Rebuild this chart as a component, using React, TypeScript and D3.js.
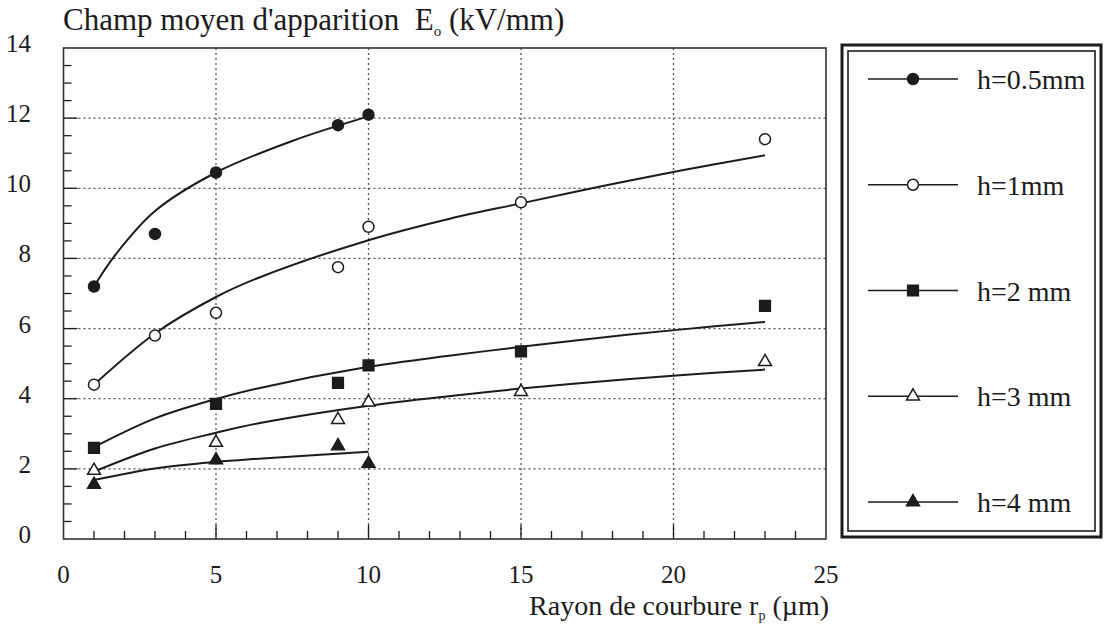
import React from 'react';
import * as d3 from 'd3';

// measured points, rayon de courbure r (µm) -> champ E0 (kV/mm)
const h05R = [1, 3, 5, 9, 10];
const h05E = [7.2, 8.7, 10.45, 11.8, 12.1];
const h1R = [1, 3, 5, 9, 10, 15, 23];
const h1E = [4.4, 5.8, 6.45, 7.75, 8.9, 9.6, 11.4];
const h2R = [1, 5, 9, 10, 15, 23];
const h2E = [2.6, 3.85, 4.45, 4.95, 5.35, 6.65];
const h3R = [1, 5, 9, 10, 15, 23];
const h3E = [1.95, 2.75, 3.4, 3.9, 4.2, 5.05];
const h4R = [1, 5, 9, 10];
const h4E = [1.55, 2.25, 2.65, 2.15];

// fitted curves
const h05FitR = [1, 1.7, 3, 5, 7.5, 10];
const h05FitE = [7.2, 8.1, 9.35, 10.45, 11.35, 12.05];
const h1FitR = [1, 3, 5, 6.4, 10, 12.7, 15, 17.6, 20.2, 23];
const h1FitE = [4.4, 5.86, 6.9, 7.45, 8.52, 9.14, 9.57, 10.05, 10.5, 10.94];
const h2FitR = [1, 3, 5, 6.4, 10, 12.7, 15, 17.6, 20.2, 23];
const h2FitE = [2.62, 3.44, 3.99, 4.3, 4.91, 5.23, 5.48, 5.74, 5.97, 6.19];
const h3FitR = [1, 3, 5, 6.4, 10, 12.7, 15, 17.6, 20.2, 23];
const h3FitE = [1.92, 2.58, 3.03, 3.3, 3.8, 4.08, 4.29, 4.49, 4.67, 4.83];
const h4FitR = [1, 3, 5, 6.4, 10];
const h4FitE = [1.68, 2.01, 2.2, 2.29, 2.49];

const seriesLabels = ['h=0.5mm', 'h=1mm', 'h=2 mm', 'h=3 mm', 'h=4 mm'];
const xTicks = [0, 5, 10, 15, 20, 25];
const yTicks = [0, 2, 4, 6, 8, 10, 12, 14];

const FONT = 'Liberation Serif';
const INK = '#1c1c1c';

type Kind = 'dot' | 'ring' | 'square' | 'tri' | 'trifill';

const series: { r: number[]; e: number[]; fr: number[]; fe: number[]; kind: Kind }[] = [
  { r: h05R, e: h05E, fr: h05FitR, fe: h05FitE, kind: 'dot' },
  { r: h1R, e: h1E, fr: h1FitR, fe: h1FitE, kind: 'ring' },
  { r: h2R, e: h2E, fr: h2FitR, fe: h2FitE, kind: 'square' },
  { r: h3R, e: h3E, fr: h3FitR, fe: h3FitE, kind: 'tri' },
  { r: h4R, e: h4E, fr: h4FitR, fe: h4FitE, kind: 'trifill' },
];

function Marker({ x, y, kind }: { x: number; y: number; kind: Kind }) {
  const type =
    kind === 'dot' || kind === 'ring'
      ? d3.symbolCircle
      : kind === 'square'
      ? d3.symbolSquare
      : d3.symbolTriangle;
  const size = kind === 'square' ? 115 : kind === 'dot' || kind === 'ring' ? 95 : 72;
  const d = d3.symbol().type(type).size(size)() as string;
  const hollow = kind === 'ring' || kind === 'tri';
  return (
    <path
      d={d}
      transform={`translate(${x},${y})`}
      fill={hollow ? '#fff' : INK}
      stroke={INK}
      strokeWidth={1.5}
    />
  );
}

export default function App() {
  const width = 1104;
  const height = 624;
  const left = 63.5;
  const right = 826;
  const top = 48;
  const bottom = 539;

  const x = d3.scaleLinear().domain([0, 25]).range([left, right]);
  const y = d3.scaleLinear().domain([0, 14]).range([bottom, top]);

  const fitLine = d3
    .line<[number, number]>()
    .x(d => x(d[0]))
    .y(d => y(d[1]))
    .curve(d3.curveCatmullRom.alpha(0.5));

  const xMinor = d3.range(1, 25);
  const yMinor = d3.range(0.5, 14, 0.5);

  const legTop = 45;
  const legBottom = 537;
  const legLeft = 842;
  const legRight = 1101;
  const legY = d3.scalePoint<number>().domain([0, 1, 2, 3, 4]).range([79, 502]);

  return (
    <svg
      width={width}
      height={height}
      fontFamily={FONT}
      style={{ position: 'absolute', left: 0, top: 0, background: '#fdfdfd' }}
    >
      {/* grid */}
      {xTicks.slice(1, -1).map(t => (
        <line key={'gx' + t} x1={x(t)} x2={x(t)} y1={top} y2={bottom}
          stroke="#555" strokeWidth={1.3} strokeDasharray="2,3" />
      ))}
      {yTicks.slice(1, -1).map(t => (
        <line key={'gy' + t} x1={left} x2={right} y1={y(t)} y2={y(t)}
          stroke="#555" strokeWidth={1.3} strokeDasharray="2,3" />
      ))}

      {/* minor + major ticks, inward */}
      {xMinor.map(t => (
        <line key={'tx' + t} x1={x(t)} x2={x(t)} y1={bottom} y2={bottom - (t % 5 === 0 ? 14 : 8)}
          stroke={INK} strokeWidth={1.3} />
      ))}
      {yMinor.map(t => (
        <line key={'ty' + t} x1={left} x2={left + (t % 2 === 0 ? 14 : 8)} y1={y(t)} y2={y(t)}
          stroke={INK} strokeWidth={1.3} />
      ))}

      {/* frame */}
      <rect x={left} y={top} width={right - left} height={bottom - top}
        fill="none" stroke="#333" strokeWidth={1.6} />

      {/* tick labels */}
      {yTicks.map(t => (
        <text key={'ly' + t} x={31} y={y(t) + 4} textAnchor="end" fontSize={25}
          fontFamily={FONT} fill={INK}>{t}</text>
      ))}
      {xTicks.map(t => (
        <text key={'lx' + t} x={x(t)} y={583} textAnchor="middle" fontSize={25}
          fontFamily={FONT} fill={INK}>{t}</text>
      ))}

      {/* axis titles */}
      <text x={63} y={30} fontSize={31} fontFamily={FONT} fill={INK}>
        {"Champ moyen d'apparition\u00a0 E"}
        <tspan fontSize={15} dy={6}>o</tspan>
        <tspan dy={-6}>{' (kV/mm)'}</tspan>
      </text>
      <text x={829} y={615} textAnchor="end" fontSize={28} fontFamily={FONT} fill={INK}>
        {'Rayon de courbure r'}
        <tspan fontSize={14} dy={5}>p</tspan>
        <tspan dy={-5}>{' (\u00b5m)'}</tspan>
      </text>

      {/* fitted curves */}
      {series.map((s, i) => (
        <path key={'c' + i}
          d={fitLine(s.fr.map((r, k) => [r, s.fe[k]] as [number, number])) as string}
          fill="none" stroke={INK} strokeWidth={2} />
      ))}

      {/* measured points */}
      {series.map((s, i) =>
        s.r.map((r, k) => <Marker key={`m${i}-${k}`} x={x(r)} y={y(s.e[k])} kind={s.kind} />)
      )}

      {/* legend */}
      <rect x={legLeft} y={legTop} width={legRight - legLeft} height={legBottom - legTop}
        fill="none" stroke={INK} strokeWidth={3} />
      <rect x={legLeft + 6} y={legTop + 6} width={legRight - legLeft - 12} height={legBottom - legTop - 12}
        fill="none" stroke={INK} strokeWidth={1.6} />
      {series.map((s, i) => {
        const ly = legY(i) as number;
        return (
          <g key={'leg' + i}>
            <line x1={868} x2={958} y1={ly} y2={ly} stroke={INK} strokeWidth={1.6} />
            <Marker x={913} y={ly} kind={s.kind} />
            <text x={977} y={ly + 10} fontSize={28} fontFamily={FONT} fill={INK}>
              {seriesLabels[i]}
            </text>
          </g>
        );
      })}
    </svg>
  );
}
